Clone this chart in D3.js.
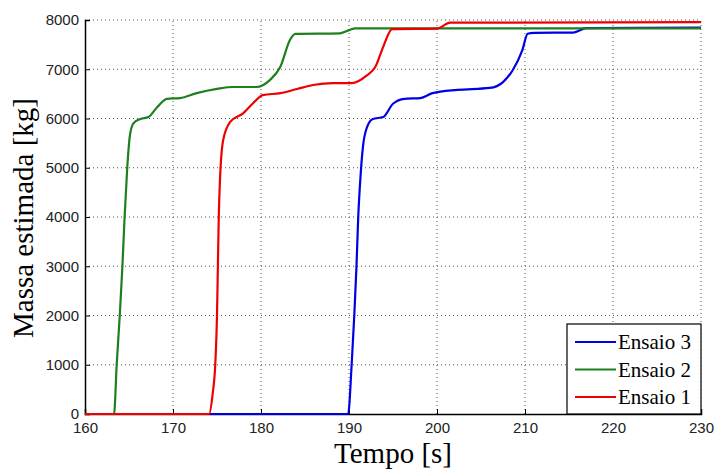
<!DOCTYPE html>
<html>
<head>
<meta charset="utf-8">
<script src="https://cdn.jsdelivr.net/npm/d3@7"></script>
<style>
  body { margin: 0; background: #fff; }
  svg { display: block; }
</style>
</head>
<body>
<div class="chart"></div>
<script>
// values: [tempo (s), massa (kg)]
var ensaio3 = [[160, 0], [189.9, 0], [190.3, 1000], [190.6, 2000], [190.85, 3000], [191.05, 4000], [191.3, 4800],
    [191.6, 5450], [192.0, 5800], [192.7, 5990], [193.9, 6030], [195, 6300], [196.3, 6400], [198.1, 6415],
    [199.5, 6515], [202.3, 6580], [206, 6620], [207.5, 6740], [208.6, 6980], [209.7, 7390], [210.3, 7720],
    [211, 7740], [215.5, 7745], [217, 7835], [230, 7845]];
var ensaio2 = [[160, 0], [163.3, 0], [163.6, 1000], [163.95, 2000], [164.25, 3000], [164.5, 4000], [164.8, 5000],
    [165.1, 5650], [165.5, 5900], [166.3, 5990], [167.2, 6030], [168.2, 6230], [169.3, 6400], [170.8, 6415],
    [172.7, 6515], [175, 6600], [176.8, 6640], [179.5, 6640], [181, 6780], [182.2, 7050], [183.3, 7600],
    [183.9, 7720], [189, 7730], [190.1, 7800], [190.7, 7830], [230, 7830]];
var ensaio1 = [[160, 0], [174.1, 0], [174.5, 400], [174.8, 1000], [175.0, 2000], [175.1, 3000], [175.2, 4000],
    [175.35, 4800], [175.7, 5560], [176.5, 5930], [178, 6110], [179.1, 6310], [180.2, 6475], [182.2, 6515],
    [184.1, 6600], [185.9, 6680], [188.2, 6720], [190.3, 6720], [192, 6870], [193, 7050], [193.9, 7460],
    [194.9, 7815], [200, 7825], [201.5, 7945], [230, 7955]];

var series = [
    {name: "Ensaio 3", values: ensaio3, color: "#0000e6"},
    {name: "Ensaio 2", values: ensaio2, color: "#1e7f1e"},
    {name: "Ensaio 1", values: ensaio1, color: "#ee0000"}
];
var xTicks = [160, 170, 180, 190, 200, 210, 220, 230];
var yTicks = [0, 1000, 2000, 3000, 4000, 5000, 6000, 7000, 8000];

var width = 716, height = 471,
    margin = {top: 20, right: 15, bottom: 57, left: 85};

var x = d3.scaleLinear().domain([160, 230]).range([margin.left, width - margin.right]);
var y = d3.scaleLinear().domain([0, 8000]).range([height - margin.bottom, margin.top]);

var svg = d3.select(".chart").append("svg")
    .attr("width", width)
    .attr("height", height);

// grid
var grid = svg.append("g")
    .attr("stroke", "#555")
    .attr("stroke-width", 1)
    .attr("stroke-dasharray", "1,3");
grid.selectAll(".gx")
    .data(xTicks.slice(1))
    .enter().append("line")
    .attr("x1", d => x(d)).attr("x2", d => x(d))
    .attr("y1", y(0)).attr("y2", y(8000));
grid.selectAll(".gy")
    .data(yTicks.slice(1))
    .enter().append("line")
    .attr("x1", x(160)).attr("x2", x(230))
    .attr("y1", d => y(d)).attr("y2", d => y(d));

// axes (drawn under the curves, the flat parts sit on the x axis)
var xAxis = svg.append("g")
    .attr("transform", `translate(0,${y(0)})`)
    .call(d3.axisBottom(x).tickValues(xTicks).tickSize(-5).tickPadding(6).tickFormat(d3.format("d")));
var yAxis = svg.append("g")
    .attr("transform", `translate(${x(160)},0)`)
    .call(d3.axisLeft(y).tickValues(yTicks).tickSize(-5).tickPadding(6).tickFormat(d3.format("d")));

[xAxis, yAxis].forEach(function (a) {
    a.select(".domain").attr("stroke", "#000").attr("stroke-width", 1.5);
    a.selectAll(".tick line").attr("stroke", "#000");
    a.selectAll("text")
        .attr("font-family", "Liberation Sans, Arial, sans-serif")
        .attr("font-size", 15)
        .attr("fill", "#222");
});
xAxis.selectAll("text").attr("dy", "0.85em");

// curves
var line = d3.line()
    .x(d => x(d[0]))
    .y(d => y(d[1]))
    .curve(d3.curveMonotoneX);

svg.append("g")
    .selectAll("path")
    .data(series)
    .enter().append("path")
    .attr("fill", "none")
    .attr("stroke", d => d.color)
    .attr("stroke-width", 2.2)
    .attr("stroke-linejoin", "round")
    .attr("d", d => line(d.values));

// axis titles
svg.append("text")
    .attr("transform", "translate(33,218) rotate(-90)")
    .attr("text-anchor", "middle")
    .attr("font-family", "Liberation Serif, Times New Roman, serif")
    .attr("font-size", 29)
    .text("Massa estimada [kg]");
svg.append("text")
    .attr("x", 393)
    .attr("y", 463)
    .attr("text-anchor", "middle")
    .attr("font-family", "Liberation Serif, Times New Roman, serif")
    .attr("font-size", 29)
    .text("Tempo [s]");

// legend
var legend = svg.append("g").attr("transform", "translate(567,324)");
legend.append("rect")
    .attr("width", x(230) - 567)
    .attr("height", y(0) - 324)
    .attr("fill", "#fff")
    .attr("stroke", "#000")
    .attr("stroke-width", 1.2);
var item = legend.selectAll(".item")
    .data(series)
    .enter().append("g")
    .attr("transform", (d, i) => `translate(0,${18 + i * 27.5})`);
item.append("line")
    .attr("x1", 8).attr("x2", 49)
    .attr("stroke", d => d.color)
    .attr("stroke-width", 2);
item.append("text")
    .attr("x", 51)
    .attr("y", 7)
    .attr("font-family", "Liberation Serif, Times New Roman, serif")
    .attr("font-size", 21)
    .text(d => d.name);
</script>
</body>
</html>
